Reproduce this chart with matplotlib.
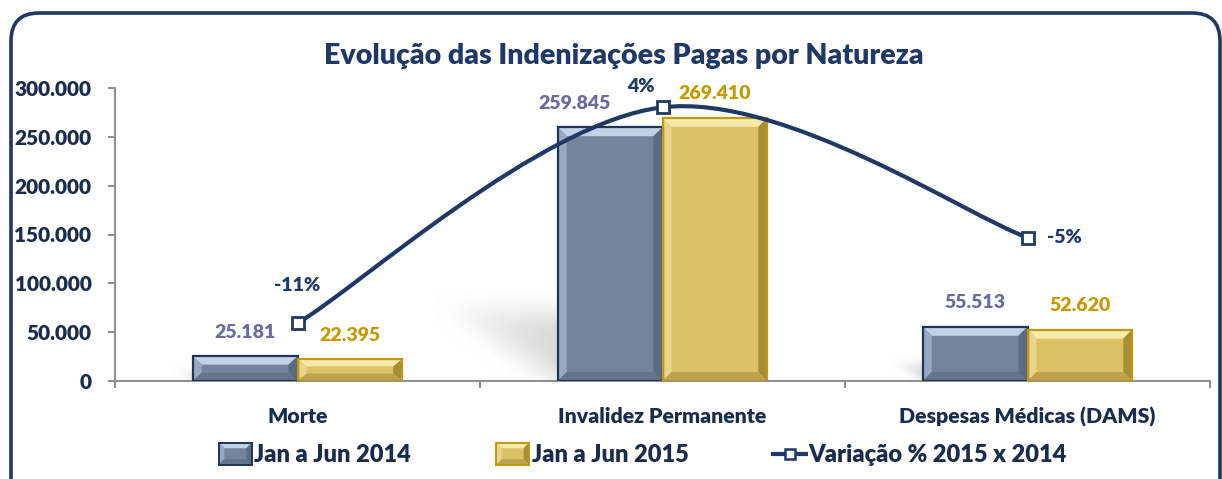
import numpy as np
import matplotlib
matplotlib.use("Agg")
import matplotlib.pyplot as plt
from matplotlib.patches import Polygon, Rectangle, FancyBboxPatch, PathPatch
from matplotlib.lines import Line2D
from matplotlib.path import Path
from matplotlib.legend_handler import HandlerBase

# ---------------- data ----------------
categories = ["Morte", "Invalidez Permanente", "Despesas Médicas (DAMS)"]
jan_jun_2014 = [25181, 259845, 55513]
jan_jun_2015 = [22395, 269410, 52620]
variacao = [-0.1106, 0.0368, -0.0521]
variacao_labels = ["-11%", "4%", "-5%"]
series_names = ["Jan a Jun 2014", "Jan a Jun 2015", "Variação % 2015 x 2014"]
y_ticks = [0, 50000, 100000, 150000, 200000, 250000, 300000]
title_text = "Evolução das Indenizações Pagas por Natureza"

# ---------------- style ----------------
FONT = ["Lato", "DejaVu Sans"]
WT = "heavy"
plt.rcParams["font.family"] = FONT
plt.rcParams["font.weight"] = WT
NAVY = "#1F3864"
TXT = "#1B2B4B"
AXC = "#8C8C8C"
C14 = dict(base="#72859D", top="#C3D1E6", left="#98A8BE", right="#5B6B82",
           bottom="#64748A", edge="#1E3556")
C15 = dict(base="#DCC064", top="#F6E9A9", left="#E9D489", right="#A98E36",
           bottom="#BFA24C", edge="#BE980E")
LBL14 = "#6C6B9E"
LBL15 = "#C49A00"
pct_offsets = [(0, 38), (-22, 21), (37, 0)]
lbl14_dx = [0, -36, 0]

W, H = 1222, 479
fig = plt.figure(figsize=(W / 100, H / 100), dpi=100)

# rounded frame
bg = fig.add_axes([0, 0, 1, 1])
bg.set_xlim(0, W)
bg.set_ylim(H, 0)
bg.axis("off")
bg.add_patch(FancyBboxPatch((11, 13), W - 13, H + 40,
                            boxstyle="round,pad=0,rounding_size=28",
                            facecolor="white", edgecolor=NAVY, lw=2.6))

ax = fig.add_axes([115 / W, 1 - 381 / H, (1210 - 115) / W, (381 - 88) / H])
ax.set_facecolor("none")
n = len(categories)
x = np.arange(n)
bw = 0.287
XL = (-0.5, n - 0.5)
YL = (0, 300000)
ax.set_xlim(*XL)
ax.set_ylim(*YL)

# pixel scale for bevel / shadow sizes
p0 = ax.transData.transform((0, 0))
p1 = ax.transData.transform((1, 100000))
px_x = p1[0] - p0[0]
px_y = (p1[1] - p0[1]) / 100000.0


def bevel(axis, x0, x1, y0, y1, c, bpx=9, z=2):
    bx = bpx / px_x
    by = min(bpx / px_y, (y1 - y0) / 3.0)
    polys = [
        ([(x0, y1), (x1, y1), (x1 - bx, y1 - by), (x0 + bx, y1 - by)], c["top"]),
        ([(x0, y0), (x0, y1), (x0 + bx, y1 - by), (x0 + bx, y0 + by)], c["left"]),
        ([(x1, y0), (x1, y1), (x1 - bx, y1 - by), (x1 - bx, y0 + by)], c["right"]),
        ([(x0, y0), (x1, y0), (x1 - bx, y0 + by), (x0 + bx, y0 + by)], c["bottom"]),
    ]
    for pts, col in polys:
        axis.add_patch(Polygon(pts, closed=True, facecolor=col, edgecolor="none", zorder=z + 0.1))


bars14 = ax.bar(x - bw / 2, jan_jun_2014, bw, color=C14["base"], edgecolor="none", zorder=2)
bars15 = ax.bar(x + bw / 2, jan_jun_2015, bw, color=C15["base"], edgecolor="none", zorder=2)


def sig(t):
    return 1.0 / (1.0 + np.exp(-t))


# soft perspective shadows to the back-left of each group
for b14, b15 in zip(bars14, bars15):
    h_px = max(b14.get_height(), b15.get_height()) * px_y
    dy_px = min(0.3 * h_px, 68)
    dx_px = 1.45 * dy_px
    blur = max(3.0, 0.12 * dy_px)
    gx0 = b14.get_x()
    wu, hv = dx_px + 3 * blur, dy_px + 3 * blur
    u = np.linspace(wu, 0, int(wu) + 2)          # px to the left of the group
    v = np.linspace(0, hv, int(hv) + 2)          # px above baseline
    U, V = np.meshgrid(u, v)
    k = dy_px / dx_px
    d1 = (V - k * U) / np.sqrt(1 + k * k)
    d2 = dy_px - V
    a = 0.16 * sig(d1 / blur) * sig(d2 / blur) * (1 - 0.35 * np.clip(U / dx_px, 0, 1))
    rgba = np.zeros(a.shape + (4,))
    rgba[..., 3] = a
    ax.imshow(rgba, extent=[gx0 - wu / px_x, gx0 + 0.002, 0, hv / px_y], origin="lower",
              aspect="auto", interpolation="bilinear", zorder=1)
ax.set_xlim(*XL)
ax.set_ylim(*YL)

for bars, c in ((bars14, C14), (bars15, C15)):
    for b in bars:
        x0, y0 = b.get_x(), b.get_y()
        bevel(ax, x0, x0 + b.get_width(), y0, y0 + b.get_height(), c)
ax.bar(x - bw / 2, jan_jun_2014, bw, fill=False, edgecolor=C14["edge"], lw=1.6, zorder=3)
ax.bar(x + bw / 2, jan_jun_2015, bw, fill=False, edgecolor=C15["edge"], lw=1.6, zorder=3)

# value labels
for i in range(n):
    ax.annotate(f"{jan_jun_2014[i]:,}".replace(",", "."), (x[i] - bw / 2, jan_jun_2014[i]),
                xytext=(lbl14_dx[i], 24), textcoords="offset pixels", ha="center", va="center",
                fontsize=14, fontweight=WT, color=LBL14, zorder=5)
    ax.annotate(f"{jan_jun_2015[i]:,}".replace(",", "."), (x[i] + bw / 2, jan_jun_2015[i]),
                xytext=(0, 24), textcoords="offset pixels", ha="center", va="center",
                fontsize=14, fontweight=WT, color=LBL15, zorder=5)

# axes styling
for s in ("top", "right"):
    ax.spines[s].set_visible(False)
for s in ("left", "bottom"):
    ax.spines[s].set_color(AXC)
    ax.spines[s].set_linewidth(1.4)
ax.set_yticks(y_ticks)
ax.set_yticklabels([f"{v:,}".replace(",", ".") for v in y_ticks])
ax.tick_params(axis="y", length=5, color=AXC, width=1.4, pad=12, labelsize=15, labelcolor=TXT)
ax.set_xticks(np.arange(-0.5, n, 1.0))
ax.set_xticklabels([])
ax.set_xticks(x, minor=True)
ax.set_xticklabels(categories, minor=True)
ax.tick_params(axis="x", which="major", length=5, color=AXC, width=1.4)
ax.tick_params(axis="x", which="minor", length=0, pad=19, labelsize=15.3, labelcolor=TXT)
for t in ax.get_xticklabels(minor=True) + ax.get_yticklabels():
    t.set_fontweight(WT)

# secondary axis with smoothed line
ax2 = ax.twinx()
ax2.set_ylim(-0.15, 0.05)
ax2.set_xlim(*XL)
ax2.axis("off")
P = np.column_stack([x, variacao]).astype(float)
verts = [P[0]]
codes = [Path.MOVETO]
for i in range(n - 1):
    pm = P[i - 1] if i > 0 else P[i]
    pn = P[i + 2] if i + 2 < n else P[i + 1]
    c1 = P[i] + (P[i + 1] - pm) / 6.0
    c2 = P[i + 1] - (pn - P[i]) / 6.0
    verts += [c1, c2, P[i + 1]]
    codes += [Path.CURVE4] * 3
ax2.add_patch(PathPatch(Path(verts, codes), facecolor="none", edgecolor=NAVY, lw=3, zorder=4,
                        capstyle="round"))
ax2.plot(x, variacao, linestyle="none", marker="s", markersize=8, markerfacecolor="white",
         markeredgecolor=NAVY, markeredgewidth=2, zorder=5)
for i in range(n):
    ax2.annotate(variacao_labels[i], (x[i], variacao[i]), xytext=pct_offsets[i],
                 textcoords="offset pixels", ha="center", va="center",
                 fontsize=14, fontweight=WT, color=NAVY, zorder=6)

fig.text(624 / W, 1 - 56 / H, title_text, ha="center", va="center", fontsize=20.5,
         fontweight=WT, color=NAVY)


# legend
class HandlerBevel(HandlerBase):
    def __init__(self, c):
        super().__init__()
        self.c = c

    def create_artists(self, legend, orig_handle, xd, yd, w, h, fs, trans):
        x0, y0, x1, y1 = -xd, -yd - 2, -xd + w, -yd + h + 2
        b = 4
        c = self.c
        arts = [Rectangle((x0, y0), x1 - x0, y1 - y0, facecolor=c["base"], edgecolor="none", transform=trans)]
        for pts, col in (
            ([(x0, y1), (x1, y1), (x1 - b, y1 - b), (x0 + b, y1 - b)], c["top"]),
            ([(x0, y0), (x0, y1), (x0 + b, y1 - b), (x0 + b, y0 + b)], c["left"]),
            ([(x1, y0), (x1, y1), (x1 - b, y1 - b), (x1 - b, y0 + b)], c["right"]),
            ([(x0, y0), (x1, y0), (x1 - b, y0 + b), (x0 + b, y0 + b)], c["bottom"]),
        ):
            arts.append(Polygon(pts, closed=True, facecolor=col, edgecolor="none", transform=trans))
        arts.append(Rectangle((x0, y0), x1 - x0, y1 - y0, fill=False, edgecolor=c["edge"], lw=1.4, transform=trans))
        return arts


h14 = Rectangle((0, 0), 1, 1)
h15 = Rectangle((0, 0), 1, 1)
hline = Line2D([], [], color=NAVY, lw=3, marker="s", markersize=7, markerfacecolor="white",
               markeredgecolor=NAVY, markeredgewidth=1.8)
leg = fig.legend([h14, h15, hline], series_names, loc="center", bbox_to_anchor=(643 / W, 1 - 455 / H),
                 ncol=3, frameon=False, fontsize=17, handlelength=1.4, handletextpad=0.1,
                 columnspacing=3.6, handler_map={h14: HandlerBevel(C14), h15: HandlerBevel(C15)})
for t in leg.get_texts():
    t.set_color(TXT)
    t.set_fontweight(WT)

fig.savefig("out.png", dpi=100)
